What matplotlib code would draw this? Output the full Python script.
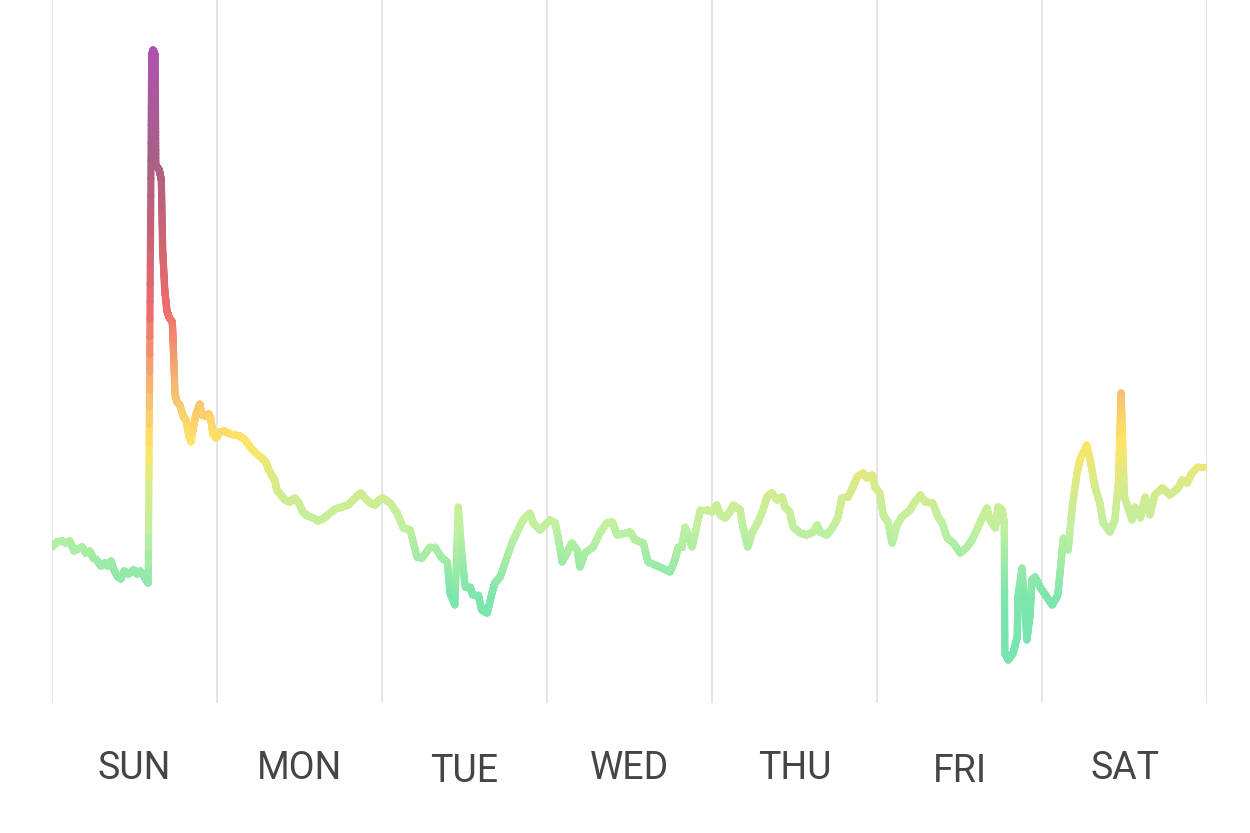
import numpy as np
import matplotlib
matplotlib.use('Agg')
import matplotlib.pyplot as plt
from matplotlib.collections import LineCollection
from matplotlib.colors import LinearSegmentedColormap, Normalize

# hours since Sunday 00:00 and the reading at that time
hours = [0.0, 0.7, 1.5, 2.0, 2.6, 3.2, 3.8, 4.4, 4.9, 5.5, 6.0, 6.5, 7.1, 7.7, 8.1, 8.6,
         9.0, 9.5, 10.0, 10.5, 11.1, 11.5, 11.9, 12.4, 12.8, 13.2, 13.7, 14.0,
         14.5, 14.7, 15.0, 15.1, 15.6, 15.9, 16.1, 16.4, 16.7, 17.0, 17.5, 17.6, 17.9,
         18.2, 18.6, 19.1, 19.5, 19.9, 20.2, 20.5, 20.9, 21.2, 21.5, 21.8, 22.3, 22.8,
         23.1, 23.4, 23.9, 24.4, 25.0, 25.9, 27.3, 28.1, 28.8, 29.5, 30.5, 31.1, 31.4,
         32.0, 32.4, 32.7, 33.3, 33.9, 34.6, 35.3, 35.9, 36.5, 37.2, 38.0, 38.7, 39.4,
         40.1, 41.2, 42.2, 43.1, 43.8, 44.4, 44.9, 45.4, 46.3, 47.0, 47.6, 48.1, 49.2,
         50.2, 51.1, 52.1, 53.1, 53.8, 55.0, 55.7, 56.7, 57.5, 57.9, 58.6, 59.1, 59.6,
         60.1, 60.8, 61.2, 62.0, 62.5, 63.3, 64.0, 64.4, 65.2, 66.9, 67.6, 68.5, 69.5,
         70.0, 71.0, 72.4, 73.2, 73.6, 74.2, 74.9, 75.6, 76.4, 76.8, 77.5, 78.7, 79.7,
         80.7, 81.5, 82.2, 84.1, 84.8, 86.0, 86.7, 88.4, 89.9, 90.6, 91.1, 91.6, 92.1,
         93.1, 94.3, 95.3, 96.0, 96.7, 97.2, 97.9, 98.6, 99.1, 100.1, 100.5, 101.2,
         101.8, 102.7, 103.4, 104.0, 104.7, 105.5, 106.2, 106.6, 107.3, 107.8, 108.8,
         109.8, 110.7, 111.3, 111.7, 112.7, 113.5, 114.3, 114.9, 115.8, 116.5, 117.1,
         118.0, 118.5, 119.3, 119.7, 120.4, 120.9, 121.6, 122.2, 122.9, 123.6, 124.8,
         125.5, 126.3, 127.0, 128.1, 128.9, 129.5, 130.2, 131.1, 132.1, 133.1, 133.8,
         134.5, 135.3, 136.0, 136.4, 137.2, 137.6, 138.2, 138.5, 138.6, 139.1, 139.8,
         140.4, 140.5, 141.1, 141.8, 142.3, 142.5, 143.0, 143.7, 144.7, 145.5, 146.3,
         146.9, 147.1, 147.8, 148.4, 149.1, 149.5, 150.5, 151.0, 151.7, 152.4, 152.9,
         153.9, 154.6, 155.1, 155.5, 156.0, 157.1, 157.5, 158.3, 159.0, 159.7, 160.4,
         161.5, 162.6, 163.8, 164.4, 165.1, 165.8, 166.7, 167.7]
values = [31.2, 32.2, 32.4, 32.0, 32.4, 30.4, 30.8, 31.2, 30.0, 30.4, 29.0, 28.6, 27.4, 28.0, 27.4, 28.4,
          26.6, 25.4, 24.8, 26.4, 25.8, 26.2, 26.6, 25.8, 26.4, 25.8, 24.6, 24.0,
          129.6, 130.6, 129.6, 107.6, 106.6, 104.6, 90.6, 82.6, 78.6, 77.2, 76.2, 72.6, 61.6,
          60.2, 59.6, 57.2, 56.6, 53.6, 52.2, 54.6, 57.6, 58.6, 59.8, 57.6, 57.4, 57.8,
          56.8, 53.8, 53.0, 54.2, 54.4, 53.8, 53.4, 52.6, 51.2, 50.2, 49.0, 48.2, 47.0,
          45.4, 44.6, 42.6, 41.6, 40.6, 40.2, 41.0, 40.0, 38.2, 37.4, 37.0, 36.4, 36.8,
          37.6, 38.8, 39.2, 39.6, 40.6, 41.4, 42.0, 41.2, 40.0, 39.6, 40.6, 41.0, 40.0,
          38.0, 35.0, 34.6, 29.2, 29.0, 31.2, 31.2, 29.0, 28.2, 22.0, 19.6, 39.2, 30.0,
          23.2, 23.2, 21.6, 21.6, 18.6, 18.0, 22.0, 24.0, 25.2, 32.0, 34.0, 36.6, 38.0,
          36.0, 34.6, 36.6, 36.0, 33.2, 28.2, 30.0, 32.0, 30.6, 27.2, 30.0, 31.2, 34.0,
          36.0, 36.2, 33.6, 34.2, 32.6, 32.0, 28.2, 27.2, 26.2, 28.6, 31.2, 31.2, 35.2,
          31.2, 38.6, 38.6, 38.2, 39.6, 37.6, 37.0, 38.2, 39.6, 38.6, 35.2, 31.2,
          34.0, 36.2, 38.6, 41.2, 42.0, 40.6, 41.2, 39.2, 38.2, 35.2, 34.0,
          33.6, 34.2, 35.6, 34.2, 33.6, 35.0, 37.0, 41.0, 41.2, 43.2, 45.2,
          46.0, 45.0, 45.6, 43.2, 42.0, 37.6, 36.2, 32.0, 35.6, 37.2, 38.6,
          40.2, 41.6, 40.2, 40.0, 37.2, 36.0, 33.0, 32.0, 30.0, 31.2, 32.6,
          34.6, 37.0, 39.0, 36.6, 35.0, 39.2, 38.6, 36.0, 10.0, 8.6, 10.0,
          13.2, 21.2, 27.0, 12.6, 18.0, 24.6, 25.2, 23.2, 21.2, 19.6, 21.6,
          30.0, 33.0, 30.6, 39.2, 46.0, 48.6, 51.6, 48.6, 43.2, 40.0, 36.0,
          34.2, 36.6, 44.0, 62.0, 41.2, 36.6, 39.2, 37.0, 41.2, 37.6, 41.6,
          43.0, 41.6, 43.0, 44.6, 44.0, 46.0, 47.2, 47.2]
days = ['SUN', 'MON', 'TUE', 'WED', 'THU', 'FRI', 'SAT']

cmap = LinearSegmentedColormap.from_list('heat', [
    (0.00, '#74e2b0'),
    (0.15, '#7de6ad'),
    (0.25, '#c2f0a0'),
    (0.30, '#d2ec8e'),
    (0.37, '#ffe566'),
    (0.45, '#f5b872'),
    (0.56, '#ef6b6b'),
    (0.66, '#cc6474'),
    (0.78, '#a85f86'),
    (1.00, '#b04cc6'),
])
norm = Normalize(0, 140.6)


def gradient_line(ax, x, y, steps=30, **kw):
    # split each segment so the colour follows the height
    segs, cols = [], []
    for i in range(len(x) - 1):
        t = np.linspace(0, 1, steps + 1)
        xs = x[i] + (x[i + 1] - x[i]) * t
        ys = y[i] + (y[i + 1] - y[i]) * t
        pts = np.column_stack([xs, ys])
        segs.extend(np.stack([pts[:-1], pts[1:]], axis=1))
        cols.extend((ys[:-1] + ys[1:]) / 2)
    lc = LineCollection(segs, colors=cmap(norm(np.array(cols))), **kw)
    ax.add_collection(lc)
    return lc


fig = plt.figure(figsize=(12.5, 8.33), dpi=100)
ax = fig.add_axes([52 / 1250, 130 / 833, 1155 / 1250, 703 / 833])
ax.set_xlim(0, 168)
ax.set_ylim(0, 140.6)
ax.axis('off')

for d in range(8):
    ax.axvline(d * 24, color='#dedede', lw=1.1, zorder=0)

gradient_line(ax, np.array(hours), np.array(values), lw=5.2,
              capstyle='round', joinstyle='round')

for i, name in enumerate(days):
    dy = -0.098 if name in ('TUE', 'FRI') else -0.093
    ax.text(i * 24 + 12, dy, name, transform=ax.get_xaxis_transform(),
            ha='center', va='center', fontsize=27, color='#454545',
            family='Roboto', clip_on=False)

fig.savefig('out.png', dpi=100)
